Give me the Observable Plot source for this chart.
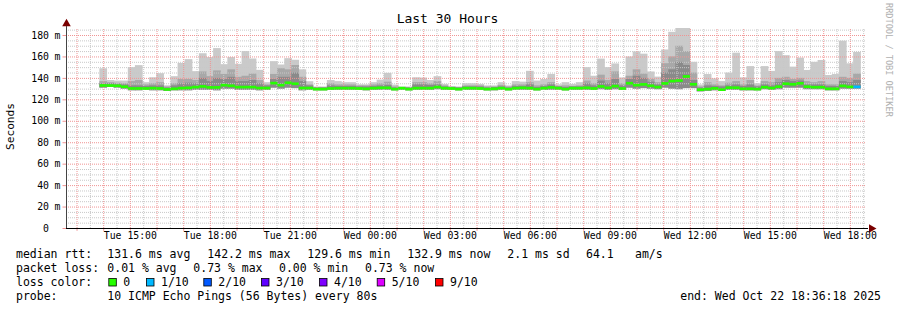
<!DOCTYPE html>
<html><head><meta charset="utf-8">
<script src="https://cdn.jsdelivr.net/npm/d3@7"></script>
<script src="https://cdn.jsdelivr.net/npm/@observablehq/plot@0.6"></script>
<style>body{margin:0;background:#fff}#chart{width:897px;height:310px}</style>
</head><body><div id="chart"></div>
<script>
// ---- data (16-minute consolidated steps, values in ms) ----
const firstBarStart = Date.UTC(2025, 9, 21, 13, 52, 0);
const stepMs = 960000;
const pingMax = [149,138,137.5,137.5,150,151.9,136,140.6,144.4,133.1,141.6,154,157.5,146.3,163,159.4,167.8,152.8,159.4,153.1,165,158.1,147.5,136,155.6,152.5,158.4,
156.9,148,136.9,132,132,138,137,136,136,134,134,136,138.4,144.7,133.7,132,132,140.6,140.3,138,141.6,134.4,132,132,135,135,134.4,
133,133,136,133,137,136.5,146.6,137.5,139,143.7,134,136,134.4,136,150,142,158,150,153.5,140.4,160,164.7,162.6,146,141.2,166.5,183,
190,190,155,133.8,143.6,139.6,137,145,163.5,140.5,151,135,151,146.5,165,161.2,150.5,158.9,147.4,155,156.7,142.7,143.6,174.7,153.6,164.2];
const pingUpper2 = [137,136,135.5,135,137,138,134,135,136,132,135,139,139,138,146,141.6,147,143.7,148,141,142,144,138,134,143.7,149,148,
152,141,134,131.5,131.5,135,134,134,134,133,133,134,135,136.5,132,131.5,131.5,136,136,135,137,133,132,131.5,133,133,133,
132,132,133.5,132,134,134,136,133,134,136,132.5,133,132.5,133,137.5,135,143,138,146,135,142,148,144,139,136,153.7,160,
170,165,145,132,136,134,133,135.5,137,134,138,133,137,136,140,141,139,140,137,136,137,134,134,141,140,144];
const pingUpper3 = [135,135,134.5,134,133,133,132.5,133,133,131,133,135,135.5,135,140,137,140,139,141,137,137,138,135,133,139,141,141,
145,137,133,131,131,133,132.5,132.5,132.5,132,132,132.5,133,133.5,131,131,131,134,134,133.5,134,132,131.5,131,132,132,132,
131,131.5,132,131,132.5,132.5,134,131.5,132.5,134,132,131.5,132,132,135,133,137.5,135,139,133,139,142,140,136.5,134,145,148,
155,152,138,131,133,132.5,132,133,134,132.5,134,132,134,133,136,138,137,137.5,134,134,134,132.5,132.5,137,136,138];
const medianRtt = [133.4,133.3,133.1,132.2,130.6,130.6,130.6,130.9,130.6,129.7,130.3,130.9,131.2,131.9,132.5,131.6,131.6,133.7,133.1,131.9,131.9,131.9,131,131,135.6,133.7,135.9,
135,131,131,130,130,130.6,130.9,130.9,130.9,130.6,130.3,130.9,131.2,131.2,130,130.9,130,130.9,130.9,130.9,131.9,130.9,130.6,130,130.9,130.9,130.6,
130,130.3,130.9,130,130.9,131.2,130.9,130,130.9,131.6,130.9,130,130.9,130.9,131.2,130.6,132.5,131.2,132.8,130.6,135.5,133.7,134.4,133.1,131.9,135.3,137.5,
138,141.8,134.5,129.5,130,130.7,129.5,131.3,131.3,130.3,130.3,130,131.8,131,132.3,135,134.5,135.4,132.3,131.8,131.8,130.3,130.3,133,132.1,132.1];
const pingMin = [131,131.5,131,130,128.5,128.5,129,128.5,128.5,128,128.5,128.5,128.5,129,129,129,128.5,130,130,129,129,129,128.5,129,131,130,131,
130.5,128.5,129,128.5,128.5,129,129,129,129,129,128.5,129,129,129,128.5,129,128.5,129,129,129,129.5,129,129,128.5,129,129,129,
128.5,128.5,129,128.5,129,129,129,128.5,129,129,129,128.5,129,129,129,129,129.5,129,129.5,129,131,130,130.5,130,129.5,131,130,
129.5,130.5,130.5,127.5,128,128.5,128,129,129,128.5,128.5,128.5,129.5,129,129.5,131,131,131,129.5,129.5,129.5,128.5,128.5,130,130,130];
const lossCount = [0,0,0,0,0,0,0,0,0,0,0,0,0,0,0,0,0,0,0,0,0,0,0,0,0,0,0,
0,0,0,0,0,0,0,0,0,0,0,0,0,0,0,0,0,0,0,0,0,0,0,0,0,0,0,
0,0,0,0,0,0,0,0,0,0,0,0,0,0,0,0,0,0,0,0,0,0,0,0,0,0,0,
0,0,0,0,0,0,0,0,0,0,0,0,0,0,0,0,0,0,0,0,0,0,0,0,0,1];
const lossLevels = [0,1,2,3,4,5,9];
const lossLabels = ["0","1/10","2/10","3/10","4/10","5/10","9/10"];
const lossColors = ["#26ff00","#00b8ff","#0059ff","#5e00ff","#7e00ff","#dd00ff","#ff0000"];
const yTickValues = [0,20,40,60,80,100,120,140,160,180];
const yTickLabels = ["0","20","40","60","80","100","120","140","160","180"];
const xTickTimes = [Date.UTC(2025,9,21,15),Date.UTC(2025,9,21,18),Date.UTC(2025,9,21,21),Date.UTC(2025,9,22,0),Date.UTC(2025,9,22,3),Date.UTC(2025,9,22,6),Date.UTC(2025,9,22,9),Date.UTC(2025,9,22,12),Date.UTC(2025,9,22,15),Date.UTC(2025,9,22,18)];
const xTickLabels = ["Tue 15:00","Tue 18:00","Tue 21:00","Wed 00:00","Wed 03:00","Wed 06:00","Wed 09:00","Wed 12:00","Wed 15:00","Wed 18:00"];
const endTime = Date.UTC(2025,9,22,18,36,18);
const startTime = endTime - 30*3600*1000;

// ---- build tables ----
const bars = pingMax.map((v,i)=>({
  t0: new Date(firstBarStart + i*stepMs), t1: new Date(firstBarStart + (i+1)*stepMs),
  max: v, up2: pingUpper2[i], up3: pingUpper3[i], med: medianRtt[i], min: pingMin[i], loss: lossCount[i]
}));
const xTicks = xTickTimes.map((t,i)=>({t:new Date(t), label:xTickLabels[i]}));
const yTicks = yTickValues.map((v,i)=>({v, label:yTickLabels[i]}));
const start = new Date(startTime), end = new Date(endTime);
const hours = d3.utcHour.range(start, end);
const halfHours = d3.utcMinute.every(30).range(start, end).filter(d=>d.getUTCMinutes()===30);
const minorY = d3.range(5, 186, 5).filter(v=>v%20!==0);
const majorY = d3.range(20, 186, 20);
const pxToTime = px => new Date(startTime + px/800*30*3600*1000);
const mono = "'DejaVu Sans Mono', monospace";
const smoke = {x1:"t0", x2:"t1", clip:true, insetLeft:-0.3, insetRight:-0.3};

const chart = Plot.plot({
  width: 897, height: 310,
  marginLeft: 66, marginRight: 31, marginTop: 28, marginBottom: 82,
  x: {type:"utc", domain:[start, end], axis:null},
  y: {domain:[0, 186.53], axis:null},
  color: {type:"ordinal", domain: lossLevels, range: lossColors},
  style: {fontFamily: mono, background:"#fff", color:"#000"},
  marks: [
    // smoke
    Plot.rect(bars, {...smoke, y1:"min", y2:"max", fill:"#cacaca"}),
    Plot.rect(bars, {...smoke, y1:"min", y2:"up2", fill:"#a8a8a8"}),
    Plot.rect(bars, {...smoke, y1:"min", y2:"up3", fill:"#8a8a8a"}),
    // grid
    Plot.ruleY(minorY, {stroke:"#c8c8c8", strokeDasharray:"1,1", x1:start, x2:end}),
    Plot.ruleX(halfHours, {stroke:"#c8c8c8", strokeDasharray:"1,1", y1:0, y2:186.53}),
    Plot.ruleY(majorY, {stroke:"#f09494", strokeDasharray:"1,1", x1:start, x2:end}),
    Plot.ruleX(hours, {stroke:"#f09494", strokeDasharray:"1,1", y1:0, y2:186.53}),
    // median coloured by loss
    Plot.ruleY(bars, {y:"med", x1:"t0", x2:"t1", stroke:"loss", strokeWidth:2.7}),
    // axes
    Plot.ruleX(hours, {y1:0, y2:-2.6, stroke:"#f09494"}),
    Plot.ruleY(yTickValues, {x1:pxToTime(-3.5), x2:start, stroke:"#f09494"}),
    Plot.ruleY([0], {x1:start, x2:pxToTime(802), stroke:"#000"}),
    Plot.ruleX([start], {y1:0, y2:188.3, stroke:"#444"}),
    Plot.dot([0], {x:pxToTime(805), y:0, symbol:"triangle", rotate:90, r:3.2, fill:"#7a0000", stroke:null}),
    Plot.dot([0], {x:start, y:190.9, symbol:"triangle", r:3.2, fill:"#7a0000", stroke:null}),
    Plot.text(xTicks, {x:"t", text:"label", frameAnchor:"bottom", dy:10.4, fontSize:9.8, fill:"#000"}),
    Plot.text(yTicks, {y:"v", text:"label", frameAnchor:"left", dx:-17.5, textAnchor:"end", fontSize:9.8, fill:"#000"}),
    Plot.text(yTicks.filter(d=>d.v!==0), {y:"v", text:()=>"m", frameAnchor:"left", dx:-12, textAnchor:"start", fontSize:9.8, fill:"#000"})
  ]
});
document.getElementById("chart").appendChild(chart);

// ---- title, labels and legend ----
const svg = d3.select(chart);
const addText = (x, y, s, opts={}) => svg.append("text").attr("x", x).attr("y", y)
  .attr("font-family", mono).attr("font-size", opts.size || 11.5).attr("fill", opts.fill || "#000")
  .attr("text-anchor", opts.anchor || "start").text(s);
addText(447.5, 23.3, "Last 30 Hours", {size:13, anchor:"middle"});
svg.append("text").attr("transform","translate(14.2,126.5) rotate(-90)").attr("text-anchor","middle")
  .attr("font-family", mono).attr("font-size", 11.2).attr("fill","#000").text("Seconds");
svg.append("text").attr("transform","translate(885.5,3) rotate(90)").attr("text-anchor","start")
  .attr("font-family", mono).attr("font-size", 8.6).attr("fill","#b0b0b0").text("RRDTOOL / TOBI OETIKER");

const legendRows = [
  {y:257.5, items:[[16,"median rtt:"],[107.3,"131.6 ms avg"],[207.3,"142.2 ms max"],[307.3,"129.6 ms min"],[407.3,"132.9 ms now"],[507.3,"2.1 ms sd"],[586,"64.1"],[635,"am/s"]]},
  {y:271.5, items:[[16,"packet loss:"],[107.3,"0.01 % avg"],[193.3,"0.73 % max"],[279,"0.00 % min"],[365,"0.73 % now"]]},
  {y:285.5, items:[[16,"loss color:"]]},
  {y:299.5, items:[[16,"probe:"],[107.3,"10 ICMP Echo Pings (56 Bytes) every 80s"]]}
];
legendRows.forEach(r => r.items.forEach(([x,s]) => addText(x, r.y, s)));
const boxX = [108.3,146,203.3,261,319,376.7,435];
lossLabels.forEach((lab,i) => {
  svg.append("rect").attr("x", boxX[i]+0.5).attr("y", 278.5).attr("width", 7.5).attr("height", 7.5)
    .attr("fill", lossColors[i]).attr("stroke", "#000").attr("stroke-width", 0.8);
  addText(boxX[i] + 15, 285.5, lab);
});
addText(881, 299.5, "end: Wed Oct 22 18:36:18 2025", {anchor:"end"});
</script>
</body></html>
